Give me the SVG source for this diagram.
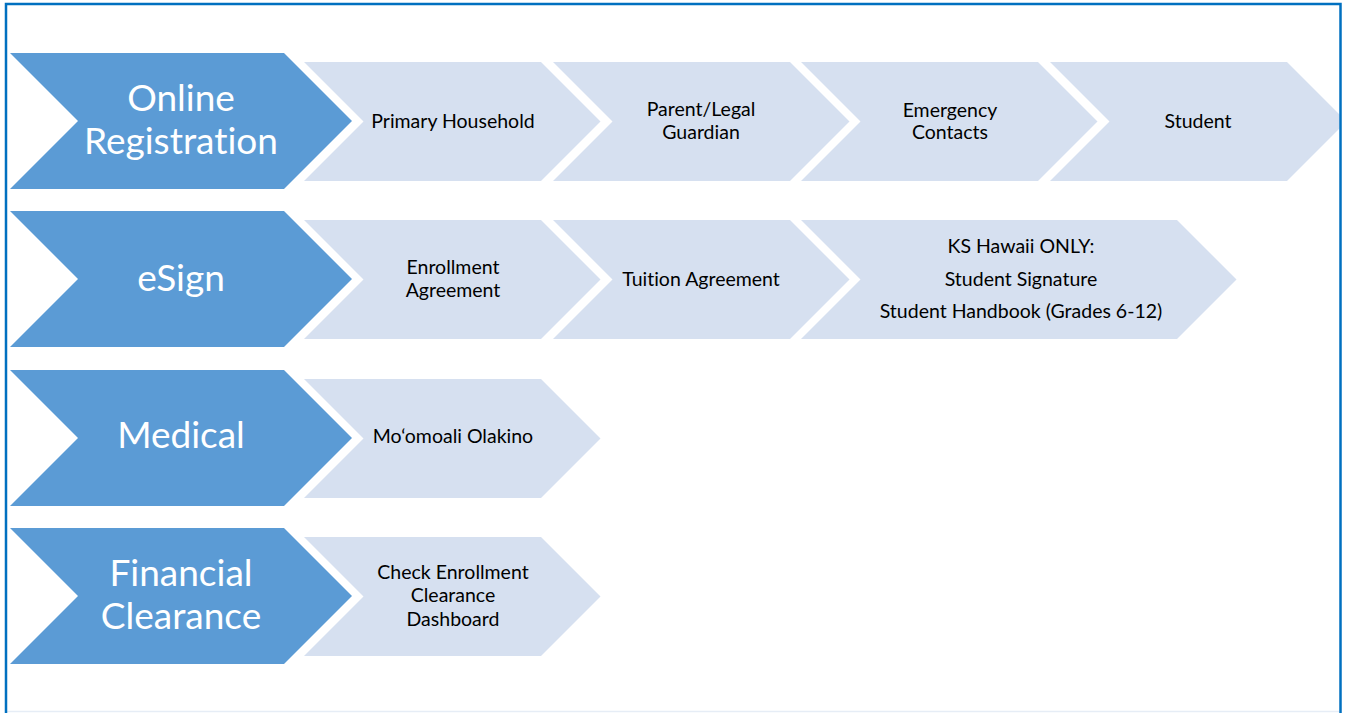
<svg xmlns="http://www.w3.org/2000/svg" width="1349" height="713" viewBox="0 0 1349 713">
<defs>
<clipPath id="inside"><rect x="6" y="4" width="1333.5" height="709"/></clipPath>
</defs>
<style>
.frame{fill:none;stroke:#0070C0;stroke-width:2.5}
.dark{fill:#5B9BD5}
.light{fill:#D6E0F0}
.big{font-family:Lato,"Open Sans","Liberation Sans",sans-serif;font-size:37px;fill:#FFFFFF;text-anchor:middle;font-variant-ligatures:none}
.small{font-family:Lato,"Open Sans","Liberation Sans",sans-serif;font-size:19.5px;fill:#000000;text-anchor:middle;font-variant-ligatures:none}
</style>
<rect width="1349" height="713" fill="#FFFFFF"/>
<line x1="7" y1="711.5" x2="1339" y2="711.5" stroke="#E6EDF6" stroke-width="1.5"/>

<g clip-path="url(#inside)">
<g id="row-online">
  <g id="online-registration">
    <polygon class="dark" points="10,53 284,53 352,121 284,189 10,189 78,121"/>
    <text class="big" x="181" y="111">Online</text>
    <text class="big" x="181" y="154">Registration</text>
  </g>
  <g id="primary-household">
    <polygon class="light" points="304,62 541,62 600.5,121.5 541,181 304,181 363.5,121.5"/>
    <text class="small" x="453" y="128">Primary Household</text>
  </g>
  <g id="parent-guardian">
    <polygon class="light" points="553,62 790,62 849.5,121.5 790,181 553,181 612.5,121.5"/>
    <text class="small" x="701" y="116">Parent/Legal</text>
    <text class="small" x="701" y="139">Guardian</text>
  </g>
  <g id="emergency-contacts">
    <polygon class="light" points="801,62 1038,62 1097.5,121.5 1038,181 801,181 860.5,121.5"/>
    <text class="small" x="950" y="117">Emergency</text>
    <text class="small" x="950" y="139">Contacts</text>
  </g>
  <g id="student">
    <polygon class="light" points="1050,62 1287,62 1346.5,121.5 1287,181 1050,181 1109.5,121.5"/>
    <text class="small" x="1198" y="128">Student</text>
  </g>
</g>

<g id="row-esign">
  <g id="esign">
    <polygon class="dark" points="10,211 284,211 352,279 284,347 10,347 78,279"/>
    <text class="big" x="181" y="291">eSign</text>
  </g>
  <g id="enrollment-agreement">
    <polygon class="light" points="304,220 541,220 600.5,279.5 541,339 304,339 363.5,279.5"/>
    <text class="small" x="453" y="274">Enrollment</text>
    <text class="small" x="453" y="297">Agreement</text>
  </g>
  <g id="tuition-agreement">
    <polygon class="light" points="553,220 790,220 849.5,279.5 790,339 553,339 612.5,279.5"/>
    <text class="small" x="701" y="286">Tuition Agreement</text>
  </g>
  <g id="ks-hawaii">
    <polygon class="light" points="801,220 1177,220 1236.5,279.5 1177,339 801,339 860.5,279.5"/>
    <text class="small" x="1021" y="253">KS Hawaii ONLY:</text>
    <text class="small" x="1021" y="286">Student Signature</text>
    <text class="small" x="1021" y="318">Student Handbook (Grades 6-12)</text>
  </g>
</g>

<g id="row-medical">
  <g id="medical">
    <polygon class="dark" points="10,370 284,370 352,438 284,506 10,506 78,438"/>
    <text class="big" x="181" y="448">Medical</text>
  </g>
  <g id="momoali-olakino">
    <polygon class="light" points="304,379 541,379 600.5,438.5 541,498 304,498 363.5,438.5"/>
    <text class="small" x="453" y="443">Mo‘omoali Olakino</text>
  </g>
</g>

<g id="row-financial">
  <g id="financial-clearance">
    <polygon class="dark" points="10,528 284,528 352,596 284,664 10,664 78,596"/>
    <text class="big" x="181" y="586">Financial</text>
    <text class="big" x="181" y="629">Clearance</text>
  </g>
  <g id="check-enrollment">
    <polygon class="light" points="304,537 541,537 600.5,596.5 541,656 304,656 363.5,596.5"/>
    <text class="small" x="453" y="579">Check Enrollment</text>
    <text class="small" x="453" y="602">Clearance</text>
    <text class="small" x="453" y="626">Dashboard</text>
  </g>
</g>
</g>

<path class="frame" d="M6,715 V4 H1340.5 V715"/>
<g id="connectors"></g>
</svg>
